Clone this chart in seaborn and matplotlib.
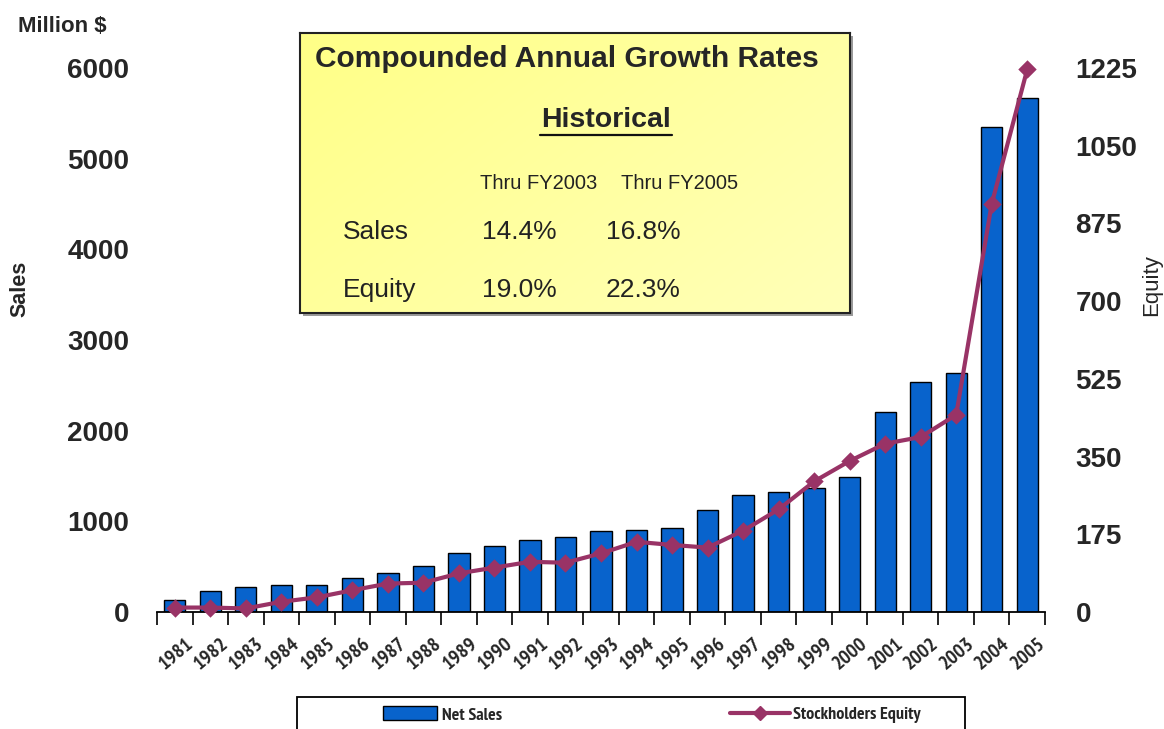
import matplotlib
matplotlib.use("Agg")
import matplotlib.pyplot as plt
import numpy as np
import seaborn as sns
from matplotlib.patches import Rectangle, Patch
from matplotlib.lines import Line2D
from matplotlib.transforms import ScaledTranslation

# ---- data -----------------------------------------------------------------
years = [str(y) for y in range(1981, 2006)]
net_sales = [130, 235, 272, 294, 298, 371, 433, 510, 654, 731, 790, 830, 890,
             907, 929, 1125, 1290, 1327, 1371, 1492, 2202, 2539, 2635, 5345, 5665]
equity = [10, 10, 8, 23, 33, 49, 64, 66, 87, 100, 113, 111, 132,
          158, 151, 145, 183, 231, 294, 340, 379, 394, 444, 919, 1222]

sales_ticks = [0, 1000, 2000, 3000, 4000, 5000, 6000]
equity_ticks = [0, 175, 350, 525, 700, 875, 1050, 1225]

cagr_periods = ["Thru FY2003", "Thru FY2005"]
cagr_rows = ["Sales", "Equity"]
cagr_values = [["14.4%", "16.8%"], ["19.0%", "22.3%"]]

BAR_BLUE = "#0863CC"
LINE_PLUM = "#993366"

sns.set_style("white")
plt.rcParams["font.family"] = ["Liberation Sans", "DejaVu Sans"]
NARROW = ["PT Sans Narrow", "Roboto Condensed", "Liberation Sans", "DejaVu Sans"]

W, H = 1164, 729
fig = plt.figure(figsize=(W / 100, H / 100), dpi=100)


def fx(px):
    return px / W


def fy(py):
    return 1 - py / H


ax = fig.add_axes([fx(157), fy(612), fx(1045) - fx(157), fy(68) - fy(612)])

# ---- bars (net sales) -----------------------------------------------------
sns.barplot(x=years, y=net_sales, color=BAR_BLUE, saturation=1, width=0.6,
            edgecolor="black", linewidth=1.0, ax=ax)
ax.set_ylim(0, 6000)
ax.set_yticks(sales_ticks)
ax.set_yticklabels([str(t) for t in sales_ticks], fontsize=20, fontweight="bold")
ax.tick_params(axis="y", length=0, pad=20)

# ---- line (stockholders equity) on secondary axis -------------------------
ax2 = ax.twinx()
sns.pointplot(x=years, y=equity, color=LINE_PLUM, markers="D", errorbar=None,
              markersize=7, linewidth=3, clip_on=False, ax=ax2)
ax2.set_ylim(0, 1225)
ax2.set_yticks(equity_ticks)
ax2.set_yticklabels([str(t) for t in equity_ticks], fontsize=20, fontweight="bold")
ax2.tick_params(axis="y", length=0, pad=22)
ax2.set_ylabel("")

for a in (ax, ax2):
    a.set_xlabel("")
    for s in ("top", "left", "right"):
        a.spines[s].set_visible(False)
ax2.spines["bottom"].set_visible(False)
ax.spines["bottom"].set_color("black")
ax.spines["bottom"].set_linewidth(1.3)

# x axis: labels at category centres, tick marks between categories
n = len(years)
ax.set_xlim(-0.5, n - 0.5)
ax.set_xticks(range(n))
ax.set_xticklabels(years, rotation=40, ha="right", va="top",
                   rotation_mode="anchor", fontsize=14.5, fontweight="bold",
                   family=NARROW)
ax.set_xticks(np.arange(-0.5, n, 1.0), minor=True)
ax.tick_params(axis="x", which="major", length=0, pad=16)
ax.tick_params(axis="x", which="minor", length=9, width=1.2, color="black",
               direction="out", bottom=True)
shift = ScaledTranslation(10 / 100, 0, fig.dpi_scale_trans)
for lab in ax.get_xticklabels():
    lab.set_transform(lab.get_transform() + shift)

# ---- axis titles ----------------------------------------------------------
fig.text(fx(18), fy(27), "Million $", fontsize=16, fontweight="bold",
         ha="left", va="center")
fig.text(fx(20), fy(289), "Sales", fontsize=15.5, fontweight="bold",
         rotation=90, ha="center", va="center")
fig.text(fx(1152), fy(285), "Equity", fontsize=16,
         rotation=90, ha="center", va="center")

# ---- growth-rate panel ----------------------------------------------------
bx0, by0, bx1, by1 = 300, 33, 850, 313
shadow = Rectangle((fx(bx0 + 3), fy(by1 + 3)), fx(bx1) - fx(bx0),
                   fy(by0) - fy(by1), transform=fig.transFigure,
                   facecolor="#9a9a9a", edgecolor="none", zorder=4)
fig.patches.append(shadow)
pax = fig.add_axes([fx(bx0), fy(by1), fx(bx1) - fx(bx0), fy(by0) - fy(by1)],
                   zorder=5)
gx = np.linspace(0, 1, 200)
gy = np.linspace(0, 1, 100)
G = 0.6 * gx[None, :] + 0.4 * gy[:, None]
rgb = np.zeros((100, 200, 3))
rgb[..., 0] = 1.0
rgb[..., 1] = 1.0
rgb[..., 2] = (135 + 50 * G) / 255
pax.imshow(rgb, aspect="auto", extent=(0, 1, 0, 1), origin="upper")
pax.set_xlim(0, 1)
pax.set_ylim(0, 1)
pax.set_xticks([])
pax.set_yticks([])
for s in pax.spines.values():
    s.set_edgecolor("#222222")
    s.set_linewidth(1.5)

fig.text(fx(315), fy(59), "Compounded Annual Growth Rates", fontsize=21.5,
         fontweight="bold", ha="left", va="center", zorder=6)
fig.text(fx(606), fy(120), "Historical", fontsize=20.5, fontweight="bold",
         ha="center", va="center", zorder=6)
fig.add_artist(Line2D([fx(540), fx(672)], [fy(135), fy(135)], color="#111111",
                      lw=1.6, transform=fig.transFigure, zorder=6))
for i, p in enumerate(cagr_periods):
    fig.text(fx(480 + 141 * i), fy(183), p, fontsize=14.5, ha="left",
             va="center", color="#222222", zorder=6)
for r, (row, vals) in enumerate(zip(cagr_rows, cagr_values)):
    yy = 232 + 58 * r
    fig.text(fx(343), fy(yy), row, fontsize=19, ha="left", va="center",
             color="#222222", zorder=6)
    for c, v in enumerate(vals):
        fig.text(fx(482 + 124 * c), fy(yy), v, fontsize=19, ha="left",
                 va="center", color="#222222", zorder=6)

# ---- legend ---------------------------------------------------------------
frame = Rectangle((fx(297), fy(745)), fx(965) - fx(297), fy(697) - fy(745),
                  transform=fig.transFigure, facecolor="white",
                  edgecolor="black", linewidth=1.3)
fig.patches.append(frame)
fig.legend([Patch(facecolor=BAR_BLUE, edgecolor="black", linewidth=1.0)],
           ["Net Sales"], frameon=False, loc="center left",
           bbox_to_anchor=(fx(383), fy(715)),
           prop={"family": NARROW, "weight": "bold", "size": 13},
           handlelength=3.0, handleheight=0.8, handletextpad=0.25,
           borderpad=0, borderaxespad=0)
fig.legend([Line2D([], [], color=LINE_PLUM, lw=3, marker="D", markersize=7)],
           ["Stockholders Equity"], frameon=False, loc="center left",
           bbox_to_anchor=(fx(730), fy(715)),
           prop={"family": NARROW, "weight": "bold", "size": 13},
           handlelength=3.3, handletextpad=0.2, borderpad=0, borderaxespad=0)

fig.savefig("out.png", dpi=100)
